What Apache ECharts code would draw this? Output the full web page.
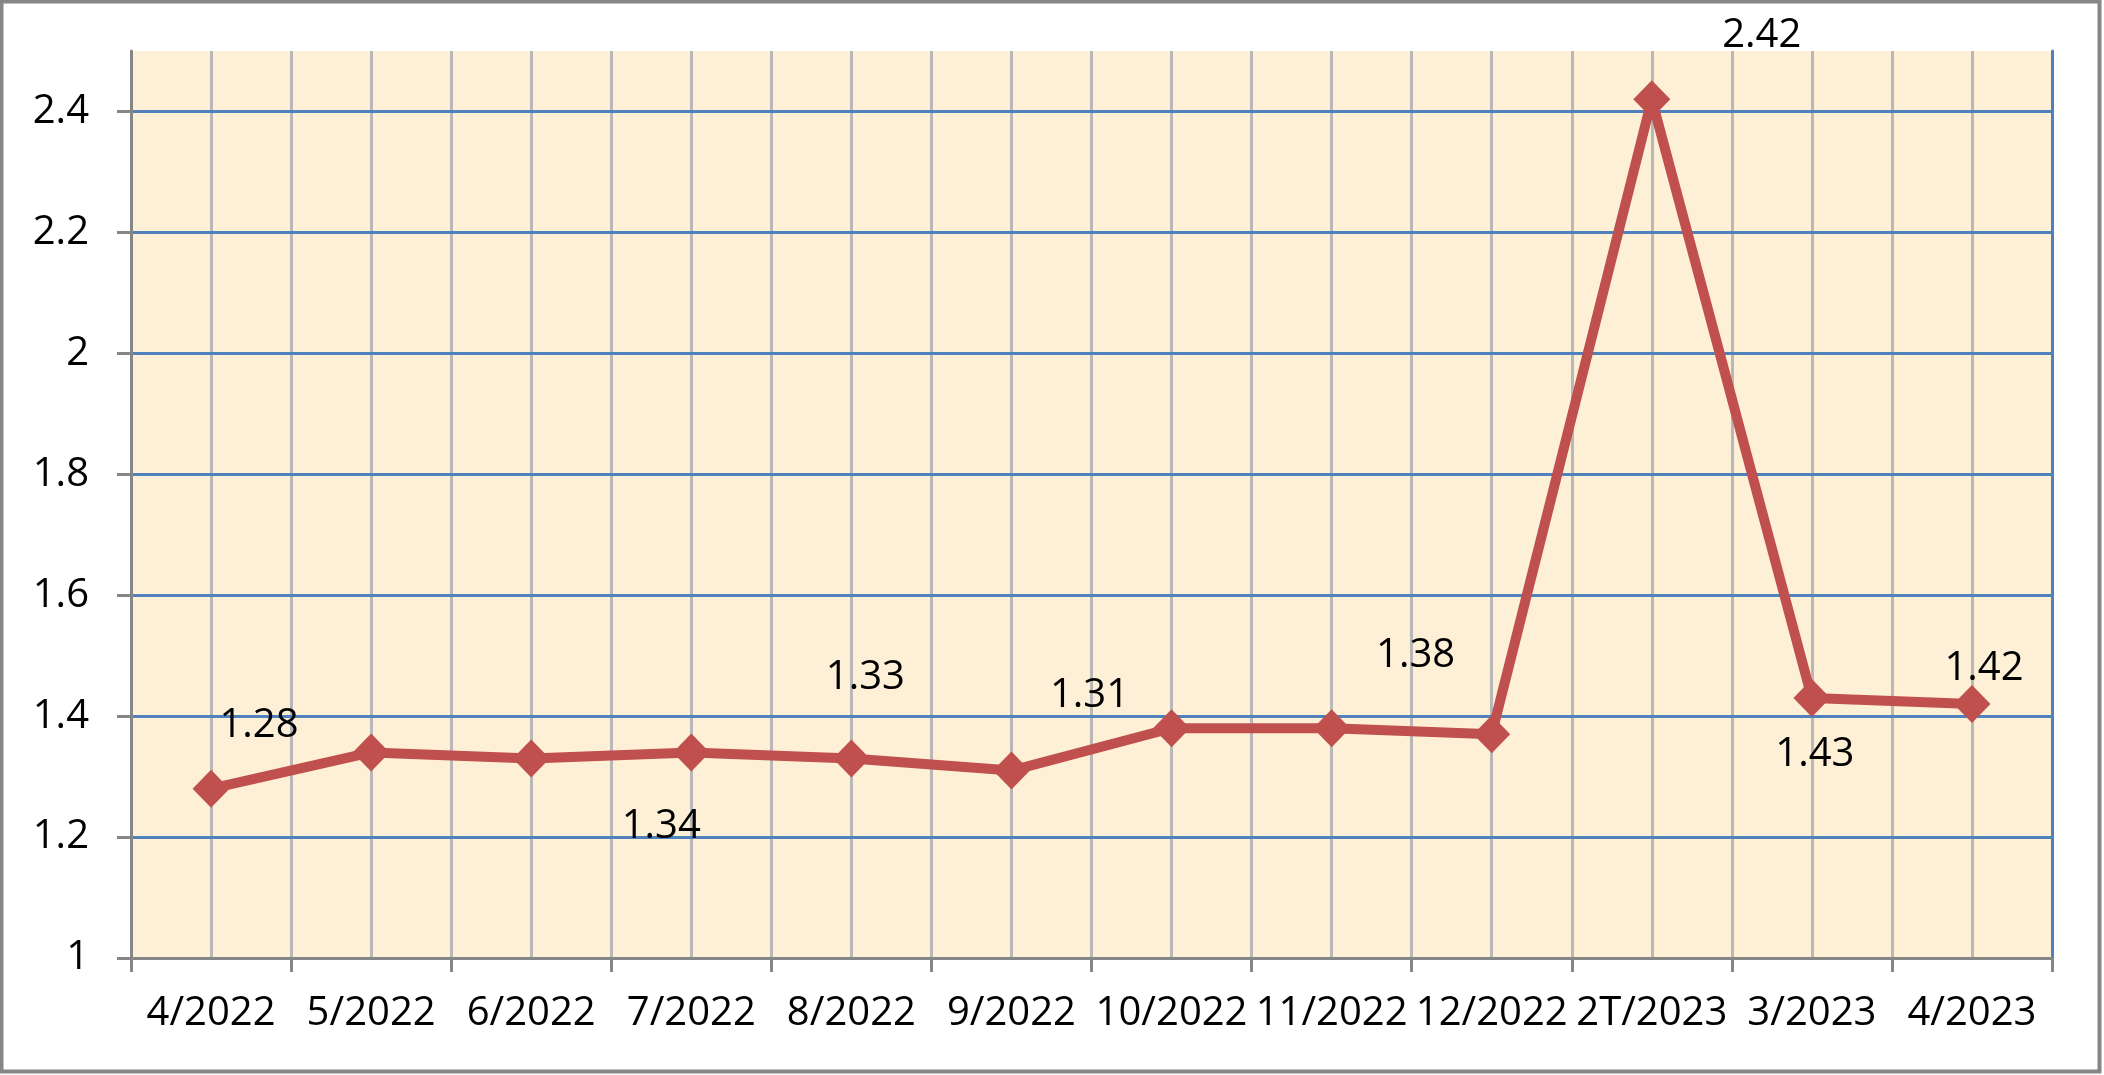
<!DOCTYPE html>
<html>
<head>
<meta charset="utf-8">
<script src="https://cdn.jsdelivr.net/npm/echarts@6/dist/echarts.min.js"></script>
<style>
  html, body { margin: 0; padding: 0; background: #ffffff; }
  #chart { width: 2104px; height: 1075px; }
</style>
</head>
<body>
<div id="chart"></div>
<script>
// ---- data ----
const categories = ['4/2022', '5/2022', '6/2022', '7/2022', '8/2022', '9/2022', '10/2022', '11/2022', '12/2022', '2T/2023', '3/2023', '4/2023'];
const values = [1.28, 1.34, 1.33, 1.34, 1.33, 1.31, 1.38, 1.38, 1.37, 2.42, 1.43, 1.42];
const yTickValues = [1, 1.2, 1.4, 1.6, 1.8, 2, 2.2, 2.4];
const labelledIndices = [0, 3, 4, 5, 7, 9, 10, 11];

// ---- styling (label placement, as in the original) ----
const labelOffsets = {
  0: [48, -63], 3: [-30, 74], 4: [14, -81], 5: [78, -75],
  7: [84, -73], 9: [110, -64], 10: [3, 57], 11: [12, -35]
};
const FONT = 'Open Sans';
const FS = 40;

const seriesData = values.map((v, i) => {
  const show = labelledIndices.indexOf(i) >= 0;
  return { value: v, label: { show: show } };
});

const chart = echarts.init(document.getElementById('chart'), null, { renderer: 'canvas' });
chart.setOption({
  animation: false,
  backgroundColor: '#ffffff',
  textStyle: { fontFamily: FONT },
  grid: {
    left: 131, right: 52, top: 51, bottom: 117,
    show: true, backgroundColor: '#FDF0D6', borderWidth: 0
  },
  graphic: [{
    type: 'rect', silent: true, z: 100,
    shape: { x: 1.5, y: 1.5, width: 2098, height: 1070 },
    style: { fill: 'none', stroke: '#868686', lineWidth: 4 }
  }],
  xAxis: [{
    type: 'category',
    data: categories,
    boundaryGap: true,
    axisLine: { show: true, lineStyle: { color: '#868686', width: 3 } },
    axisTick: { show: true, length: 14, alignWithLabel: false, lineStyle: { color: '#868686', width: 3 } },
    axisLabel: { interval: 0, hideOverlap: false, margin: 36, color: '#000', fontFamily: FONT, fontSize: FS },
    splitLine: { show: false },
    z: 5
  }, {
    type: 'value',
    min: 0, max: 24, interval: 1,
    position: 'bottom',
    axisLine: { show: false },
    axisTick: { show: false },
    axisLabel: { show: false },
    splitLine: { show: true, lineStyle: { color: '#B8B8B8', width: 3 } },
    z: 1
  }],
  yAxis: [{
    type: 'value',
    min: 1, max: 2.5, interval: 0.2,
    axisLine: { show: true, lineStyle: { color: '#868686', width: 3 } },
    axisTick: { show: true, length: 14, customValues: yTickValues, lineStyle: { color: '#868686', width: 3 } },
    axisLabel: { margin: 42, color: '#000', fontFamily: FONT, fontSize: FS, customValues: yTickValues },
    splitLine: { show: true, lineStyle: { color: '#4F81BD', width: 3 } },
    z: 3
  }, {
    type: 'value',
    min: 1, max: 2.5,
    position: 'right',
    axisLine: { show: true, lineStyle: { color: '#4F81BD', width: 3 } },
    axisTick: { show: false },
    axisLabel: { show: false },
    splitLine: { show: false },
    z: 4
  }],
  series: [{
    type: 'line',
    xAxisIndex: 0,
    yAxisIndex: 0,
    data: seriesData,
    symbol: 'diamond',
    symbolSize: [37, 38],
    showAllSymbol: true,
    lineStyle: { color: '#C0504D', width: 10 },
    itemStyle: { color: '#C0504D' },
    label: {
      position: 'inside',
      color: '#000',
      fontFamily: FONT,
      fontSize: FS,
      align: 'center',
      verticalAlign: 'middle'
    },
    labelLayout: function (params) {
      const off = labelOffsets[params.dataIndex] || [0, 0];
      return { dx: off[0], dy: off[1], hideOverlap: false };
    },
    z: 10
  }]
});
</script>
</body>
</html>
